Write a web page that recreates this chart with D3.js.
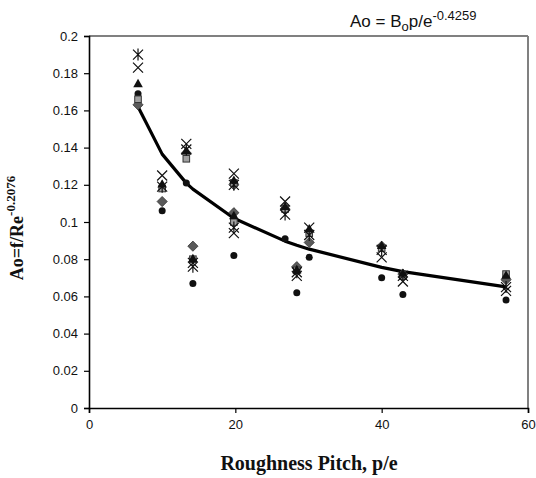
<!DOCTYPE html>
<html><head><meta charset="utf-8">
<script src="https://cdn.jsdelivr.net/npm/d3@7"></script>
<style>body{margin:0;background:#fff}svg{display:block}</style>
</head><body>
<script>
// ---- data ----
const xTicks = [0, 20, 40, 60];
const yTicks = [0, 0.02, 0.04, 0.06, 0.08, 0.1, 0.12, 0.14, 0.16, 0.18, 0.2];
const yTickLabels = ["0","0.02","0.04","0.06","0.08","0.1","0.12","0.14","0.16","0.18","0.2"];

const diamondPts = [[6.7,0.163],[10,0.111],[13.3,0.137],[14.2,0.087],[19.8,0.120],[19.8,0.105],[26.8,0.107],[28.4,0.076],[30.1,0.089],[40,0.087],[42.9,0.072],[57,0.069]];
const squarePts  = [[6.7,0.166],[10,0.118],[13.3,0.134],[14.2,0.080],[19.8,0.121],[19.8,0.100],[26.8,0.107],[28.4,0.074],[30.1,0.094],[40,0.086],[42.9,0.071],[57,0.072]];
const trianglePts= [[6.7,0.174],[10,0.120],[13.3,0.138],[14.2,0.080],[19.8,0.122],[19.8,0.103],[26.8,0.108],[28.4,0.074],[30.1,0.096],[40,0.087],[42.9,0.072],[57,0.071]];
const xPts       = [[6.7,0.183],[10,0.125],[13.3,0.142],[14.2,0.078],[19.8,0.126],[19.8,0.094],[26.8,0.111],[28.4,0.071],[30.1,0.097],[40,0.081],[42.9,0.068],[57,0.063]];
const starPts    = [[6.7,0.190],[10,0.119],[13.3,0.139],[14.2,0.076],[19.8,0.120],[19.8,0.097],[26.8,0.104],[28.4,0.073],[30.1,0.093],[40,0.085],[42.9,0.071],[57,0.065]];
const circlePts  = [[6.7,0.169],[10,0.106],[13.3,0.121],[14.2,0.067],[19.8,0.082],[26.8,0.091],[28.4,0.062],[30.1,0.081],[40,0.070],[42.9,0.061],[57,0.058]];
const trendX = [6.7, 10, 13.3, 14.2, 19.8, 26.8, 28.4, 30.1, 40, 42.9, 57];
const trendY = [0.162, 0.1365, 0.1209, 0.1177, 0.1020, 0.0897, 0.0875, 0.0854, 0.0756, 0.0733, 0.0651];

// ---- layout ----
const W = 536, H = 478;
const L = 89, R = 528, T = 36, B = 408;
const svg = d3.select("body").append("svg").attr("width", W).attr("height", H);
const x = d3.scaleLinear().domain([0, 60]).range([L, R]);
const y = d3.scaleLinear().domain([0, 0.2]).range([B, T]);

// plot area border (top/right gray)
svg.append("line").attr("x1", L).attr("x2", R).attr("y1", T).attr("y2", T).attr("stroke", "#808080").attr("stroke-width", 2);
svg.append("line").attr("x1", R).attr("x2", R).attr("y1", T).attr("y2", B).attr("stroke", "#808080").attr("stroke-width", 2);

const font = "'Liberation Sans', Arial, sans-serif";
const yAxis = svg.append("g").attr("transform", `translate(${L},0)`)
  .call(d3.axisLeft(y).tickValues(yTicks).tickSize(5).tickPadding(6).tickFormat((d,i)=>yTickLabels[i]));
const xAxis = svg.append("g").attr("transform", `translate(0,${B})`)
  .call(d3.axisBottom(x).tickValues(xTicks).tickSize(5).tickPadding(7).tickFormat(d3.format("d")));
[yAxis, xAxis].forEach(g => {
  g.select(".domain").attr("stroke", "#000").attr("stroke-width", 1.6);
  g.selectAll(".tick line").attr("stroke", "#000").attr("stroke-width", 1.2);
  g.selectAll("text").attr("font-family", font).attr("font-size", 13).attr("fill", "#111");
});

// trendline
svg.append("path")
  .datum(trendX.map((v, i) => [v, trendY[i]]))
  .attr("d", d3.line().x(d => x(d[0])).y(d => y(d[1])))
  .attr("fill", "none").attr("stroke", "#000").attr("stroke-width", 3.2).attr("stroke-linejoin", "round");

// markers
const g = svg.append("g");
function drawX(pts, star) {
  const s = 5;
  pts.forEach(p => {
    const cx = x(p[0]), cy = y(p[1]);
    g.append("path").attr("d", `M${cx-s},${cy-s}L${cx+s},${cy+s}M${cx-s},${cy+s}L${cx+s},${cy-s}` + (star ? `M${cx},${cy-s-1}L${cx},${cy+s+1}` : ""))
      .attr("stroke", "#111").attr("stroke-width", 1.2).attr("fill", "none");
  });
}
circlePts.forEach(p => g.append("circle").attr("cx", x(p[0])).attr("cy", y(p[1])).attr("r", 3.5).attr("fill", "#111"));
diamondPts.forEach(p => g.append("path").attr("d", d3.symbol(d3.symbolDiamond2, 66)())
  .attr("transform", `translate(${x(p[0])},${y(p[1])})`).attr("fill", "#5a5a5a").attr("stroke", "#333").attr("stroke-width", 0.8));
squarePts.forEach(p => g.append("rect").attr("x", x(p[0]) - 3.3).attr("y", y(p[1]) - 3.3).attr("width", 6.6).attr("height", 6.6)
  .attr("fill", "#a0a0a0").attr("stroke", "#333").attr("stroke-width", 1));
trianglePts.forEach(p => g.append("path").attr("d", d3.symbol(d3.symbolTriangle, 40)())
  .attr("transform", `translate(${x(p[0])},${y(p[1])})`).attr("fill", "#111"));
drawX(xPts, false);
drawX(starPts, true);

// titles
const yt = svg.append("text").attr("transform", "translate(23,228) rotate(-90)").attr("text-anchor", "middle")
  .attr("font-family", "'Liberation Serif', 'Times New Roman', serif").attr("font-weight", "bold").attr("font-size", 18).attr("fill", "#111");
yt.append("tspan").text("Ao=f/Re");
yt.append("tspan").attr("dy", -8).attr("font-size", 13).text("-0.2076");

svg.append("text").attr("x", 309).attr("y", 470).attr("text-anchor", "middle")
  .attr("font-family", "'Liberation Serif', 'Times New Roman', serif").attr("font-weight", "bold").attr("font-size", 20).attr("fill", "#111")
  .text("Roughness Pitch, p/e");

const tt = svg.append("text").attr("x", 350).attr("y", 27).attr("font-family", font).attr("font-size", 17).attr("fill", "#111");
tt.append("tspan").text("Ao = B");
tt.append("tspan").attr("dy", 4).attr("font-size", 13).text("o");
tt.append("tspan").attr("dy", -4).text("p/e");
tt.append("tspan").attr("dy", -7).attr("font-size", 13).text("-0.4259");
</script>
</body></html>
